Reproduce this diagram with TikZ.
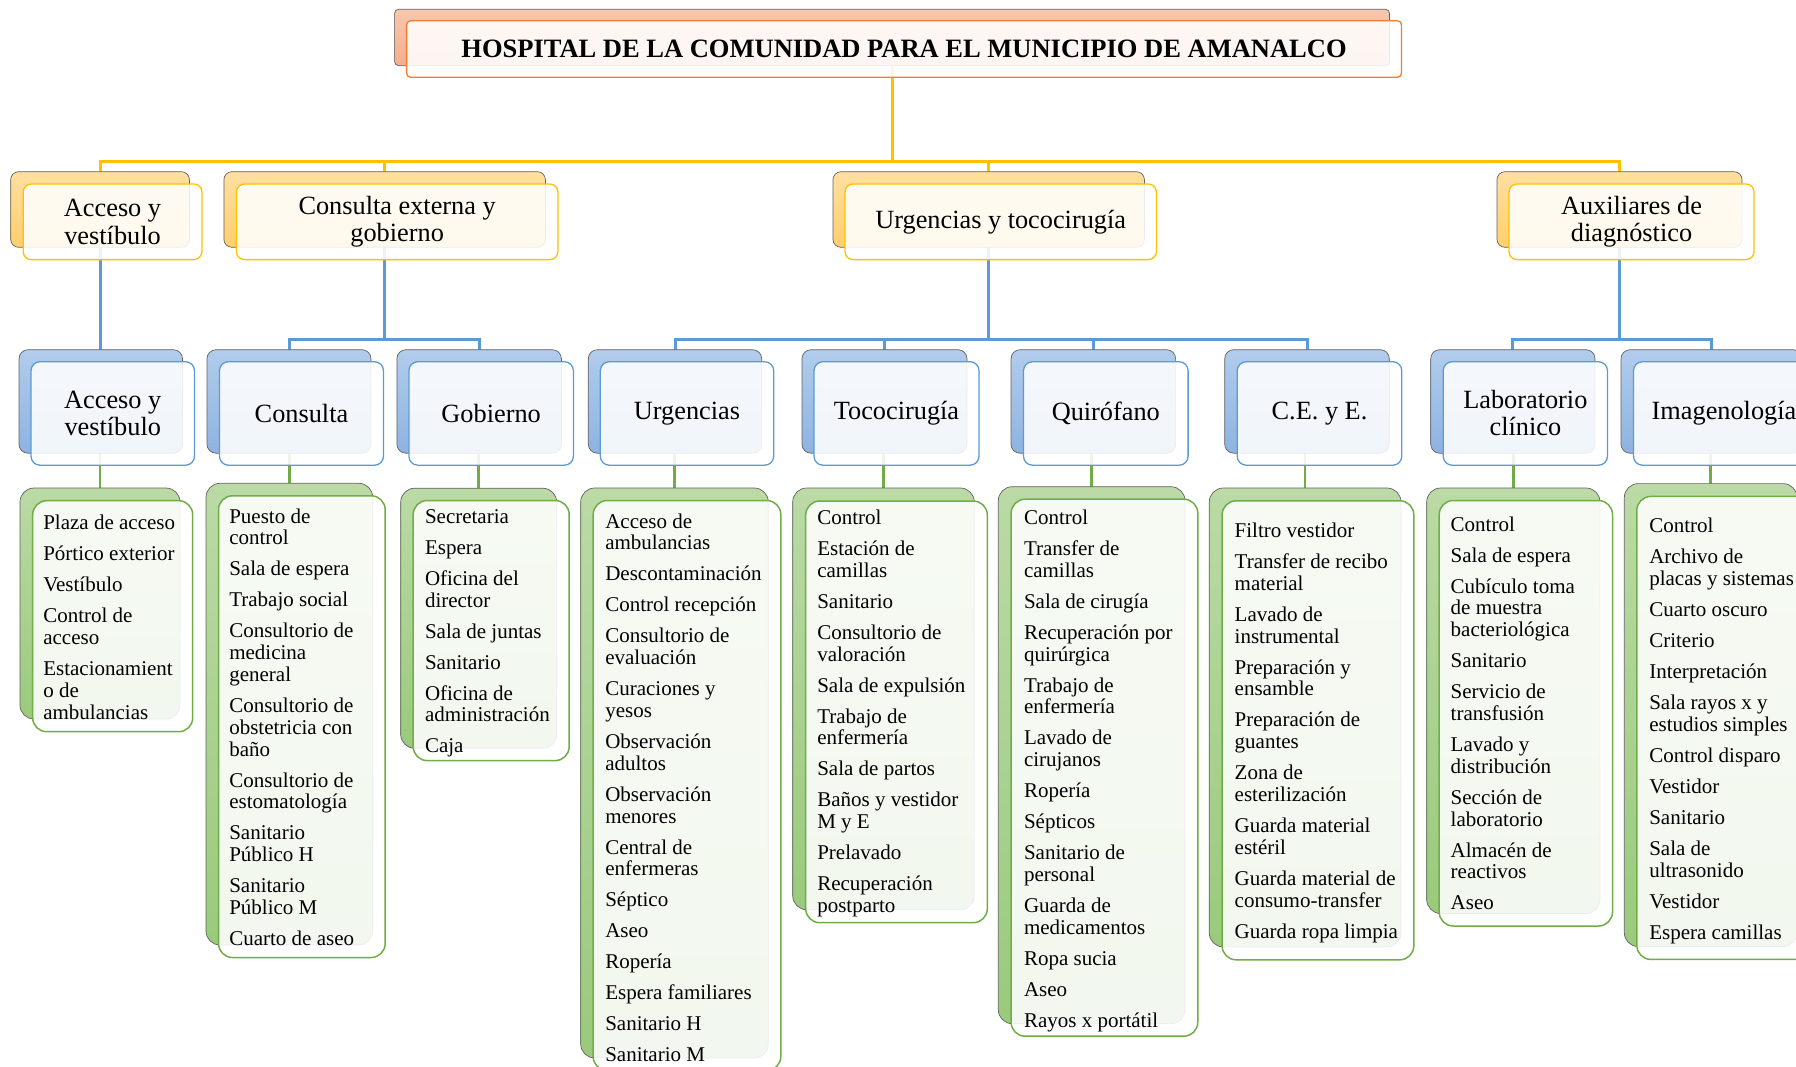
\documentclass[tikz,border=0pt]{standalone}
\usepackage{fontspec}
\setmainfont{Liberation Serif}
\usetikzlibrary{calc}
\definecolor{cTa}{HTML}{F8C6AE}
\definecolor{cTb}{HTML}{F3AE8E}
\definecolor{cOrange}{HTML}{ED7D31}
\definecolor{cAa}{HTML}{FFDFA0}
\definecolor{cAb}{HTML}{FFCF6E}
\definecolor{cGold}{HTML}{FFC000}
\definecolor{cBa}{HTML}{B1CCEC}
\definecolor{cBb}{HTML}{8EB3E1}
\definecolor{cBlue}{HTML}{5B9BD5}
\definecolor{cCa}{HTML}{BBDAA6}
\definecolor{cCb}{HTML}{9ACA7C}
\definecolor{cGreen}{HTML}{70AD47}
\pgfdeclarelayer{bg}
\pgfsetlayers{bg,main}
\newcommand\ii{\\[9.2pt]}
\newcommand\fs{\rule{0pt}{15pt}}
\newcommand\dualbox[9]{%
  \pgfmathsetmacro\dbW{#5-#3}\pgfmathsetmacro\dbH{#6-#4}%
  \pgfmathsetmacro\dbX{(#3+#5)/2}\pgfmathsetmacro\dbY{(#4+#6)/2}%
  \node[#2back, minimum width=\dbW pt, minimum height=\dbH pt] (#1) at (\dbX,\dbY) {};
  \node[#2front, minimum width=\dbW pt, minimum height=\dbH pt] (#1f) at (\dbX+#7,\dbY+#8) {#9};
}
\begin{document}
\begin{tikzpicture}[x=1pt,y=-1pt,
  back/.style={draw=black!62, line width=0.7pt, inner sep=0pt, outer sep=0pt},
  front/.style={fill=white, fill opacity=0.88, text opacity=1, inner sep=0pt, outer sep=0pt, line width=1.3pt},
  Tback/.style={back, rounded corners=4pt, top color=cTa, bottom color=cTb},
  Tfront/.style={front, rounded corners=4pt, draw=cOrange, font=\fontsize{26.5}{30}\selectfont\bfseries},
  Aback/.style={back, rounded corners=8pt, top color=cAa, bottom color=cAb},
  Afront/.style={front, rounded corners=8pt, draw=cGold, align=center, font=\fontsize{26.3}{27.6}\selectfont},
  Bback/.style={back, rounded corners=9pt, top color=cBa, bottom color=cBb},
  Bfront/.style={front, rounded corners=9pt, draw=cBlue, align=center, font=\fontsize{26.3}{27}\selectfont},
  Cback/.style={back, rounded corners=14pt, top color=cCa, bottom color=cCb},
  Cfront/.style={front, rounded corners=14pt, draw=cGreen, line width=1.5pt},
  ltext/.style={anchor=north west, inner sep=0pt, outer sep=0pt, align=left, font=\fontsize{21}{21.8}\selectfont},
  lgold/.style={draw=cGold, line width=3pt},
  lblue/.style={draw=cBlue, line width=3pt},
  lgreen/.style={draw=cGreen, line width=2.6pt}
]
\useasboundingbox (0,0) rectangle (1796,1066);
\clip (0,0) rectangle (1796,1066);

% title
\dualbox{ttl}{T}{394.6}{9.3}{1389.5}{65.7}{12}{11.5}{HOSPITAL DE LA COMUNIDAD PARA EL MUNICIPIO DE AMANALCO}

% level 1
\dualbox{acc1}{A}{10.7}{171.7}{189.4}{247.3}{12.5}{12.3}{Acceso y\\vestíbulo}
\dualbox{cex1}{A}{223.9}{171.7}{545.4}{247.3}{12.5}{12.3}{Consulta externa y\\gobierno}
\dualbox{urt1}{A}{833}{171.7}{1144.4}{247.3}{12}{12.3}{Urgencias y tococirugía}
\dualbox{aux1}{A}{1497}{171.7}{1742}{247.3}{12}{12.3}{Auxiliares de\\diagnóstico}

% level 2
\dualbox{acc2}{B}{19}{349.7}{182.5}{453.2}{12}{12}{Acceso y\\vestíbulo}
\dualbox{con2}{B}{207}{349.7}{371}{453.2}{12.5}{12}{Consulta}
\dualbox{gob2}{B}{396.9}{349.7}{561.4}{453.2}{12}{12}{Gobierno}
\dualbox{urg2}{B}{588.3}{349.7}{761.7}{453.2}{12}{12}{Urgencias}
\dualbox{toc2}{B}{802}{349.7}{967}{453.2}{12}{12}{Tococirugía}
\dualbox{qui2}{B}{1011}{349.7}{1175.6}{453.2}{12.5}{12}{Quirófano}
\dualbox{cee2}{B}{1224.7}{349.7}{1389.3}{453.2}{12.5}{12}{C.E. y E.}
\dualbox{lab2}{B}{1430.7}{349.7}{1595}{453.2}{12.5}{12}{Laboratorio\\clínico}
\dualbox{ima2}{B}{1621}{349.7}{1802}{453.2}{12.5}{12}{Imagenología}

% level 3 boxes
\dualbox{acc3}{C}{20}{488}{180}{719}{12.7}{12.7}{}
\dualbox{con3}{C}{206}{483.3}{372.7}{945}{12.5}{12.5}{}
\dualbox{gob3}{C}{400.7}{488.2}{556.7}{748.3}{12.5}{12.3}{}
\dualbox{urg3}{C}{580.7}{488}{768.3}{1058}{12.5}{12.5}{}
\dualbox{toc3}{C}{792.7}{488}{974.3}{909.7}{13}{13}{}
\dualbox{qui3}{C}{998.3}{486.7}{1185}{1023.7}{12.8}{12.5}{}
\dualbox{cee3}{C}{1209.3}{488}{1401}{947}{12.8}{12.8}{}
\dualbox{lab3}{C}{1426.7}{488}{1600}{913.5}{12.5}{12.5}{}
\dualbox{ima3}{C}{1624.3}{483.6}{1797}{946.6}{12.5}{12.8}{}

% level 3 texts
\node[ltext] (acc3t) at (43.3,514.7) {\fs Plaza de acceso\ii Pórtico exterior\ii Vestíbulo\ii Control de\\acceso\ii Estacionamient\\o de\\ambulancias};
\node[ltext] (con3t) at (229.3,508) {\fs Puesto de\\control\ii Sala de espera\ii Trabajo social\ii Consultorio de\\medicina\\general\ii Consultorio de\\obstetricia con\\baño\ii Consultorio de\\estomatología\ii Sanitario\\Público H\ii Sanitario\\Público M\ii Cuarto de aseo};
\node[ltext] (gob3t) at (425,508.2) {\fs Secretaria\ii Espera\ii Oficina del\\director\ii Sala de juntas\ii Sanitario\ii Oficina de\\administración\ii Caja};
\node[ltext] (urg3t) at (605.3,513.1) {\fs Acceso de\\ambulancias\ii Descontaminación\ii Control recepción\ii Consultorio de\\evaluación\ii Curaciones y\\yesos\ii Observación\\adultos\ii Observación\\menores\ii Central de\\enfermeras\ii Séptico\ii Aseo\ii Ropería\ii Espera familiares\ii Sanitario H\ii Sanitario M};
\node[ltext] (toc3t) at (817.3,509.4) {\fs Control\ii Estación de\\camillas\ii Sanitario\ii Consultorio de\\valoración\ii Sala de expulsión\ii Trabajo de\\enfermería\ii Sala de partos\ii Baños y vestidor\\M y E\ii Prelavado\ii Recuperación\\postparto};
\node[ltext] (qui3t) at (1024,509.4) {\fs Control\ii Transfer de\\camillas\ii Sala de cirugía\ii Recuperación por\\quirúrgica\ii Trabajo de\\enfermería\ii Lavado de\\cirujanos\ii Ropería\ii Sépticos\ii Sanitario de\\personal\ii Guarda de\\medicamentos\ii Ropa sucia\ii Aseo\ii Rayos x portátil};
\node[ltext] (cee3t) at (1234.7,522.4) {\fs Filtro vestidor\ii Transfer de recibo\\material\ii Lavado de\\instrumental\ii Preparación y\\ensamble\ii Preparación de\\guantes\ii Zona de\\esterilización\ii Guarda material\\estéril\ii Guarda material de\\consumo-transfer\ii Guarda ropa limpia};
\node[ltext] (lab3t) at (1450.7,516.1) {\fs Control\ii Sala de espera\ii Cubículo toma\\de muestra\\bacteriológica\ii Sanitario\ii Servicio de\\transfusión\ii Lavado y\\distribución\ii Sección de\\laboratorio\ii Almacén de\\reactivos\ii Aseo};
\node[ltext] (ima3t) at (1649.3,517.7) {\fs Control\ii Archivo de\\placas y sistemas\ii Cuarto oscuro\ii Criterio\ii Interpretación\ii Sala rayos x y\\estudios simples\ii Control disparo\ii Vestidor\ii Sanitario\ii Sala de\\ultrasonido\ii Vestidor\ii Espera camillas};

% connectors
\begin{pgfonlayer}{bg}
\coordinate (busA) at (0,161.7);
\coordinate (busB) at (0,339.3);
\draw[lgold] (ttl.south) -- (ttl.south |- busA);
\draw[lgold] (acc1.north) -- (acc1.north |- busA) -- (aux1.north |- busA) -- (aux1.north);
\draw[lgold] (cex1.north) -- (cex1.north |- busA);
\draw[lgold] (urt1.north) -- (urt1.north |- busA);
\draw[lblue] (acc1.south) -- (acc1.south |- acc2.north);
\draw[lblue] (cex1.south) -- (cex1.south |- busB);
\draw[lblue] (con2.north) -- (con2.north |- busB) -- (gob2.north |- busB) -- (gob2.north);
\draw[lblue] (urt1.south) -- (urt1.south |- busB);
\draw[lblue] (urg2.north) -- (urg2.north |- busB) -- (cee2.north |- busB) -- (cee2.north);
\draw[lblue] (toc2.north) -- (toc2.north |- busB);
\draw[lblue] (qui2.north) -- (qui2.north |- busB);
\draw[lblue] (aux1.south) -- (aux1.south |- busB);
\draw[lblue] (lab2.north) -- (lab2.north |- busB) -- (ima2.north |- busB) -- (ima2.north);
\foreach \n in {acc,con,gob,urg,toc,qui,cee,lab,ima}{
  \draw[lgreen] (\n3.north |- \n2.south) -- (\n3.north);
}
\end{pgfonlayer}
\end{tikzpicture}
\end{document}
